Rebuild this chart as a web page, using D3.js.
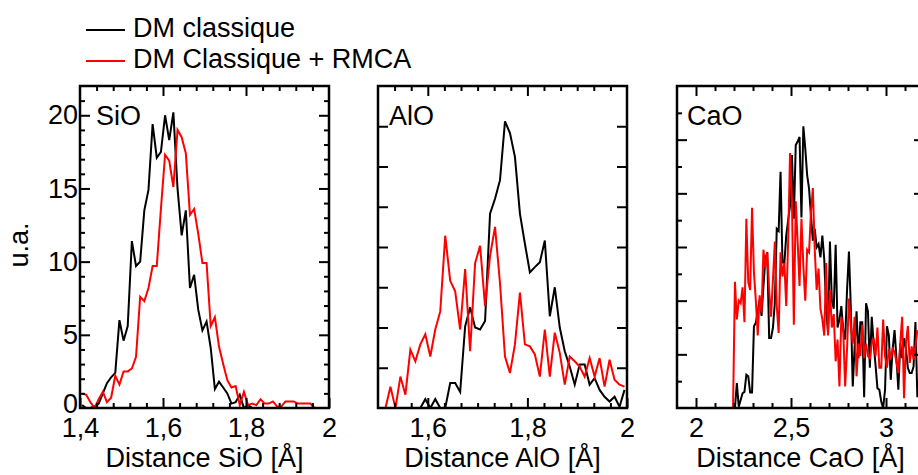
<!DOCTYPE html>
<html><head><meta charset="utf-8">
<script src="https://cdn.jsdelivr.net/npm/d3@7"></script>
<style>
html,body{margin:0;padding:0;background:#fff;overflow:hidden}
svg{display:block;font-family:"Liberation Sans",Arial,Helvetica,sans-serif}
</style></head><body>
<svg id="chart" width="918" height="475"></svg>
<script>
// ---------- data ----------
const seriesNames = ["DM classique", "DM Classique + RMCA"];
const seriesColors = ["#000000", "#ff0000"];

// SiO : bins start 1.405, step 0.01
const sioStart = 1.405, sioStep = 0.01;
const sioClassique = [0.2,0,0,0.1,0.3,1.0,1.7,2.1,2.4,6.0,4.6,5.6,11.4,9.7,10.0,13.5,14.9,19.4,17.1,17.5,
  20.0,18.3,20.2,15.0,11.8,13.5,8.2,9.1,6.7,5.3,5.9,4.1,1.3,1.8,1.4,1.0,0.3,0.4,0.9,0,
  0.2,0,0,0,0,0,0,0,0,0,0,0,0,0,0,0,0,0,0,0];
const sioRMCA = [1.0,0.9,0.4,0,0.6,1.1,0.4,0.7,2.2,1.6,2.5,2.5,2.7,3.5,7.6,7.3,8.2,9.7,9.7,13.6,
  17.3,16.9,15.1,19.0,18.5,17.4,13.2,13.6,11.9,9.9,9.9,5.6,6.2,4.2,3.0,1.9,1.4,1.5,0.2,1.1,
  0.2,0.3,0.2,0.6,0.3,0.3,0.45,0.1,0.1,0.45,0.45,0.45,0.3,0.3,0.3,0.3,0,0,0,0];
const sioXTicks = [1.4, 1.6, 1.8, 2.0];
const sioYTicks = [0, 5, 10, 15, 20];

// AlO : bins start 1.505, step 0.01
const aloStart = 1.505, aloStep = 0.01;
const aloClassique = [0,0,0,0,0,0,0,0,0,0.22,0,0.22,0,0,0.62,0.62,0.4,2.03,2.5,2.0,
  1.95,2.16,4.83,5.2,5.66,7.12,6.83,6.24,4.83,4.08,3.37,3.5,3.62,4.16,2.28,3.0,2.0,1.41,1.03,0.58,
  1.08,1.08,0.58,0.74,0.45,0.28,0.16,0.28,0.03,0.45];
const aloRMCA = [0,0,0.53,0,0.78,0.33,1.45,1.16,1.58,1.83,1.28,1.95,2.4,4.28,3.16,2.9,1.95,3.45,1.41,3.6,
  4.03,2.53,3.78,4.5,3.1,1.28,0.87,1.58,2.87,1.58,1.53,1.33,0.78,1.95,0.78,1.87,1.37,0.58,1.28,1.16,
  1.03,0.78,1.24,0.78,1.24,0.53,1.2,0.7,0.58,0.53];
const aloXTicks = [1.6, 1.8, 2.0];

// CaO : bins start 1.905, step 0.01
const caoStart = 1.905, caoStep = 0.01;
const caoClassique = [0,0,0,0,0,0,0,0,0,0,0,0,0,0,0,0,0,0,0,0,0,0,0,0,0,0,0,0,0,0,
  0,0.93,0.05,0.3,0.55,0.6,1.24,1.18,0.58,0.58,3.05,3.18,3.6,4.05,3.43,4.55,5.55,5.8,2.61,2.61,
  3.0,3.93,6.68,6.6,8.8,5.43,5.4,6.43,6.99,7.55,9.43,7.05,9.8,9.93,10.1,7.1,10.5,9.68,8.68,8.18,
  7.18,6.24,6.68,5.99,6.11,5.61,6.43,5.55,
  3.7,2.8,6.2,4.0,3.7,6.08,3.0,3.3,3.8,2.9,2.55,4.4,5.83,3.7,0.8,2.3,3.6,1.86,3.2,3.2,
  0.4,3.9,3.6,1.5,3.4,2.4,1.6,0.74,0.68,0.24,0,0.68,3.05,2.7,1.05,2.2,2.9,1.86,0.68,2.4,
  1.86,2.6,2.2,1.5,1.3,1.3,1.55,3.2,0.4];
const caoRMCA = [0,0,0,0,0,0,0,0,0,0,0,0,0,0,0,0,0,0,0,0,0,0,0,0,0,0,0,0,0,0,
  4.7,3.3,4.0,3.9,4.5,3.2,7.05,4.7,4.4,7.46,5.05,4.0,2.7,4.2,3.55,5.9,5.2,5.8,4.4,3.4,
  4.8,6.2,3.8,2.8,5.8,4.9,5.4,3.8,6.2,9.5,7.7,3.1,7.7,6.2,4.55,7.05,5.3,4.0,5.9,5.8,
  7.3,8.2,5.9,4.4,5.2,3.7,3.3,2.7,
  5.4,2.7,4.4,3.0,3.5,1.74,2.55,0.8,3.4,2.9,0.8,2.2,4.08,3.05,2.4,3.4,1.18,2.4,1.93,3.1,
  1.86,2.4,1.93,1.86,2.4,2.6,1.93,3.0,1.5,1.5,3.3,1.93,1.5,2.2,1.8,2.2,2.1,1.7,1.3,2.4,
  3.4,0.36,2.4,3.05,1.68,2.3,1.8,2.3,2.9];
const caoXTicks = [2.0, 2.5, 3.0];

// ---------- layout ----------
const FONT = 27;
const plotTop = 86, plotBottom = 408;
const fmt = d => String(+d.toFixed(3)).replace(".", ",");
const rng = (a, b, s) => d3.range(0, Math.round((b - a) / s) + 1).map(i => +(a + i * s).toFixed(4));

const panels = [
  {label: "SiO", title: "Distance SiO [Å]", left: 80, right: 329, xDom: [1.4, 2.0], yDom: [0, 22],
   xMajor: sioXTicks, xMinor: rng(1.4, 2.0, 0.04), yMajor: sioYTicks, yMinor: rng(0, 22, 1),
   yLabels: true, labelX: 96, start: sioStart, step: sioStep, series: [sioClassique, sioRMCA]},
  {label: "AlO", title: "Distance AlO [Å]", left: 378, right: 627, xDom: [1.5, 2.0], yDom: [0, 8],
   xMajor: aloXTicks, xMinor: rng(1.5, 2.0, 0.2 / 6), yMajor: rng(0, 8, 1), yMinor: [],
   yLabels: false, labelX: 389, start: aloStart, step: aloStep, series: [aloClassique, aloRMCA]},
  {label: "CaO", title: "Distance CaO [Å]", left: 677, right: 924, xDom: [1.9, 3.2], yDom: [0, 12],
   xMajor: caoXTicks, xMinor: rng(1.9, 3.2, 0.1), yMajor: rng(0, 12, 2), yMinor: rng(0, 12, 1),
   yLabels: false, labelX: 687, start: caoStart, step: caoStep, series: [caoClassique, caoRMCA]}
];

const svg = d3.select("#chart");
const defs = svg.append("defs");

panels.forEach((p, pi) => {
  const x = d3.scaleLinear().domain(p.xDom).range([p.left, p.right]);
  const y = d3.scaleLinear().domain(p.yDom).range([plotBottom, plotTop]);
  const g = svg.append("g");

  defs.append("clipPath").attr("id", "clip" + pi)
    .append("rect").attr("x", p.left).attr("y", plotTop)
    .attr("width", p.right - p.left).attr("height", plotBottom - plotTop);

  const line = d3.line().x((d, i) => x(p.start + i * p.step)).y(d => y(d));
  const lg = g.append("g").attr("clip-path", `url(#clip${pi})`);
  p.series.forEach((s, si) => {
    lg.append("path").datum(s).attr("d", line)
      .attr("fill", "none").attr("stroke", seriesColors[si])
      .attr("stroke-width", 2).attr("stroke-linejoin", "miter");
  });

  const inRange = (arr, dom) => arr.filter(v => v > dom[0] + 1e-6 && v < dom[1] - 1e-6);
  const minorOnly = (arr, maj) => arr.filter(v => !maj.some(m => Math.abs(m - v) < 1e-6));

  const styleAxis = sel => {
    sel.select(".domain").remove();
    sel.selectAll(".tick line").attr("stroke", "#000").attr("stroke-width", 2);
    sel.selectAll("text").attr("font-size", FONT).attr("fill", "#000")
      .attr("font-family", '"Liberation Sans",Arial,Helvetica,sans-serif');
  };

  const xMinorVals = inRange(minorOnly(p.xMinor, p.xMajor), p.xDom);
  g.append("g").attr("transform", `translate(0,${plotBottom})`)
    .call(d3.axisBottom(x).tickValues(p.xMajor).tickSize(-10).tickPadding(10).tickFormat(fmt))
    .call(styleAxis);
  g.append("g").attr("transform", `translate(0,${plotBottom})`)
    .call(d3.axisBottom(x).tickValues(xMinorVals).tickSize(-5).tickFormat(""))
    .call(styleAxis);
  g.append("g").attr("transform", `translate(0,${plotTop})`)
    .call(d3.axisTop(x).tickValues(inRange(p.xMajor, p.xDom)).tickSize(-10).tickFormat(""))
    .call(styleAxis);
  g.append("g").attr("transform", `translate(0,${plotTop})`)
    .call(d3.axisTop(x).tickValues(xMinorVals).tickSize(-5).tickFormat(""))
    .call(styleAxis);

  const yMajIn = inRange(p.yMajor, p.yDom);
  const yMinVals = inRange(minorOnly(p.yMinor, p.yMajor), p.yDom);
  const yl = g.append("g").attr("transform", `translate(${p.left},0)`)
    .call(d3.axisLeft(y).tickValues(p.yLabels ? p.yMajor : yMajIn).tickSize(-10).tickPadding(2)
      .tickFormat(p.yLabels ? fmt : ""))
    .call(styleAxis);
  if (p.yLabels) {
    yl.selectAll(".tick line").filter(d => d <= p.yDom[0]).remove();
    // lift the "0" label slightly so it does not collide with the first x label
    yl.selectAll(".tick text").filter(d => d <= p.yDom[0]).attr("y", -4);
  }
  g.append("g").attr("transform", `translate(${p.left},0)`)
    .call(d3.axisLeft(y).tickValues(yMinVals).tickSize(-5).tickFormat(""))
    .call(styleAxis);
  g.append("g").attr("transform", `translate(${p.right},0)`)
    .call(d3.axisRight(y).tickValues(yMajIn).tickSize(-10).tickFormat(""))
    .call(styleAxis);
  g.append("g").attr("transform", `translate(${p.right},0)`)
    .call(d3.axisRight(y).tickValues(yMinVals).tickSize(-5).tickFormat(""))
    .call(styleAxis);

  g.append("rect").attr("x", p.left).attr("y", plotTop)
    .attr("width", p.right - p.left).attr("height", plotBottom - plotTop)
    .attr("fill", "none").attr("stroke", "#000").attr("stroke-width", 2.5);

  g.append("text").attr("x", p.labelX).attr("y", 125).attr("font-size", FONT).text(p.label);

  g.append("text").attr("x", (p.left + p.right) / 2).attr("y", 467)
    .attr("text-anchor", "middle").attr("font-size", FONT).text(p.title);
});

svg.append("text").attr("transform", "translate(28,245) rotate(-90)")
  .attr("text-anchor", "middle").attr("font-size", FONT).text("u.a.");

const leg = svg.append("g");
seriesNames.forEach((n, i) => {
  const yy = 30 + i * 31;
  leg.append("line").attr("x1", 86).attr("x2", 125).attr("y1", yy).attr("y2", yy)
    .attr("stroke", seriesColors[i]).attr("stroke-width", 2);
  leg.append("text").attr("x", 133).attr("y", yy + 7).attr("font-size", FONT).text(n);
});
</script>
</body></html>
